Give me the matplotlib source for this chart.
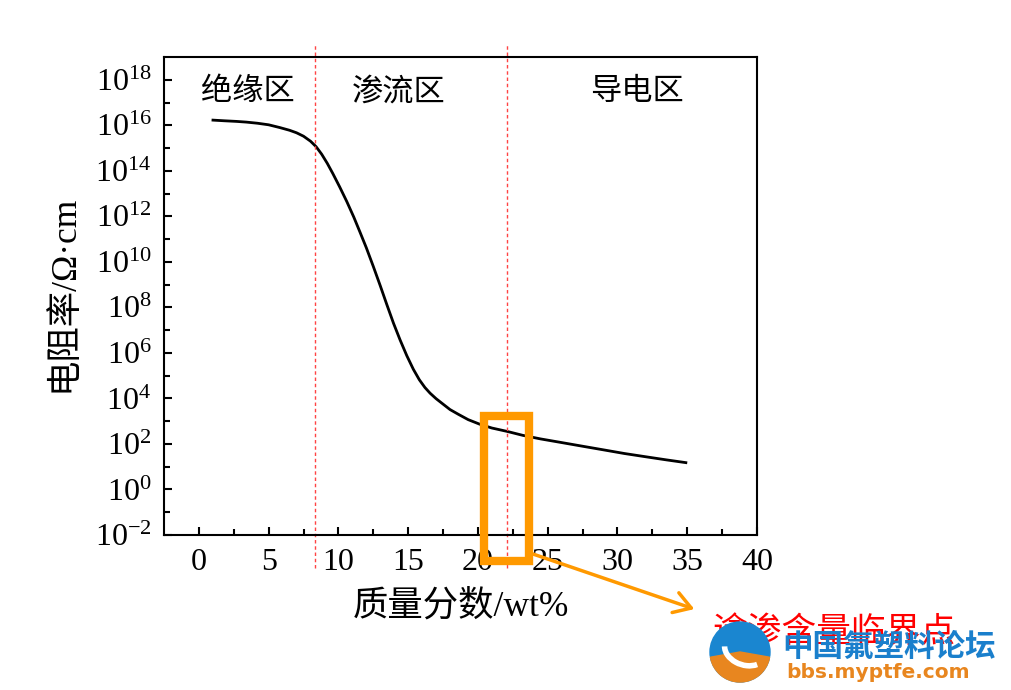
import math
import matplotlib
matplotlib.use("Agg")
import matplotlib.pyplot as plt
from matplotlib.patches import Rectangle, Wedge, Circle, Arc, FancyArrowPatch
from matplotlib.ticker import FixedLocator, FuncFormatter, NullFormatter

# ---- data ----
mass_fraction = [0.91, 1.8, 2.7, 3.4, 4.2, 5.0, 5.8, 6.5, 7.0, 7.5, 8.0, 8.4, 8.8, 9.2,
                 9.6, 10.1, 10.6, 11.1, 11.55, 12.0, 12.5, 13.0, 13.46, 13.95, 14.42,
                 14.9, 15.37, 15.8, 16.2, 16.57, 17.0, 17.5, 18.0, 18.6, 19.3, 20.16,
                 21.0, 22.1, 23.2, 24.5, 26.0, 27.5, 29.0, 30.5, 32.0, 33.5, 35.0]
resistivity = [1.70e16, 1.58e16, 1.48e16, 1.38e16, 1.23e16, 1.05e16, 7.94e15, 6.03e15,
               4.68e15, 3.31e15, 2.00e15, 1.15e15, 5.37e14, 2.14e14, 7.59e13, 1.91e13,
               4.47e12, 9.33e11, 2.00e11, 4.17e10, 6.31e9, 8.91e8, 1.38e8, 2.00e7,
               3.72e6, 7.59e5, 1.91e5, 6.61e4, 3.02e4, 1.70e4, 9.77e3, 5.62e3, 3.24e3,
               2.00e3, 1.17e3, 7.24e2, 5.01e2, 3.55e2, 2.40e2, 1.66e2, 1.15e2, 79.4,
               55.0, 38.0, 27.5, 20.0, 14.8]
boundaries = [8.3, 22.1]
region_labels = ["绝缘区", "渗流区", "导电区"]
region_label_x = [3.5, 14.3, 31.4]
x_ticks = [0, 5, 10, 15, 20, 25, 30, 35, 40]
y_tick_exps = [-2, 0, 2, 4, 6, 8, 10, 12, 14, 16, 18]

plt.rcParams['font.family'] = ['Liberation Serif', 'Noto Sans CJK SC', 'DejaVu Sans']
plt.rcParams['mathtext.fontset'] = 'custom'
plt.rcParams['mathtext.rm'] = 'Liberation Serif'
plt.rcParams['mathtext.it'] = 'Liberation Serif:italic'
plt.rcParams['mathtext.bf'] = 'Liberation Serif:bold'

W, H = 1012, 690
fig = plt.figure(figsize=(W / 100, H / 100), dpi=100)
ax = fig.add_axes([164 / W, 1 - 535 / H, (757 - 164) / W, (535 - 57) / H])

ax.plot(mass_fraction, resistivity, color='black', lw=2.0,
        solid_joinstyle='round', solid_capstyle='butt')
ax.set_yscale('log')
ax.set_xlim(-2.5, 40)
ax.set_ylim(1e-2, 1e19)

ax.xaxis.set_major_locator(FixedLocator(x_ticks))
ax.xaxis.set_minor_locator(FixedLocator([x + 2.5 for x in x_ticks[:-1]]))
ax.yaxis.set_major_locator(FixedLocator([10.0 ** e for e in y_tick_exps]))
ax.yaxis.set_minor_locator(FixedLocator([10.0 ** (e + 1) for e in y_tick_exps[:-1]]))
ax.yaxis.set_minor_formatter(NullFormatter())
ax.yaxis.set_major_formatter(FuncFormatter(
    lambda v, p: r'$\mathregular{10^{%d}}$' % round(math.log10(v))))

for s in ax.spines.values():
    s.set_linewidth(1.5)
ax.tick_params(which='both', direction='in', top=False, right=False, width=1.5)
ax.tick_params(which='major', length=6)
ax.tick_params(which='minor', length=4)
ax.tick_params(axis='x', which='major', labelsize=23, pad=9)
ax.tick_params(axis='y', which='major', labelsize=23, pad=9)

# boundary lines extending outside the axes
for b in boundaries:
    ax.axvline(b, ymin=-0.07, ymax=1.03, color='#ff4444', lw=1.0,
               linestyle=(0, (2.5, 2)), clip_on=False)

for lab, x in zip(region_labels, region_label_x):
    ax.text(x, 10 ** 17.5, lab, family=['Noto Sans CJK SC'], fontsize=22.5,
            ha='center', va='center')

ax.set_xlabel('质量分数/wt%', fontsize=25.5, labelpad=10)
ax.set_ylabel('电阻率/Ω·cm', fontsize=25.5)
ax.yaxis.set_label_coords(-0.14, 0.505)

# orange highlight box and arrow
orange = '#ff9900'
fig.patches.append(Rectangle((484 / W, 1 - 561 / H), 45 / W, 145 / H,
                             transform=fig.transFigure, fill=False,
                             edgecolor=orange, lw=6, zorder=5))
fig.add_artist(FancyArrowPatch(
    (530 / W, 1 - 553 / H), (697 / W, 1 - 610 / H), transform=fig.transFigure,
    arrowstyle='->,head_length=8,head_width=5', color=orange, lw=2.5,
    mutation_scale=1.5, zorder=5))

fig.text(713 / W, 1 - 633 / H, '逾渗含量临界点', family=['Noto Sans CJK SC'],
         fontsize=25, color='red', ha='left', va='center')

# watermark overlay
tr = fig.dpi_scale_trans
cx, cy, r = 7.40, (H - 652) / 100, 0.30
fig.add_artist(Circle((cx, cy), r, transform=tr, color='#1a86d0', zorder=6))
fig.add_artist(Wedge((cx, cy), r, 190, 350, transform=tr, color='#e8861f', zorder=6))
fig.add_artist(Arc((cx + 0.05, cy + 0.02), 0.42, 0.30, angle=-20, theta1=190, theta2=330,
                   transform=tr, color='white', lw=4, zorder=7))
fig.text(782 / W, 1 - 647 / H, '中国氟塑料论坛', family=['Noto Sans CJK SC'],
         fontsize=22, fontweight='bold', color='#1a7fcc', ha='left', va='center', zorder=8)
fig.text(786 / W, 1 - 673 / H, 'bbs.myptfe.com', family=['DejaVu Sans'],
         fontsize=14.5, fontweight='bold', color='#e8861f', ha='left', va='center', zorder=8)

fig.savefig('out.png', dpi=100)
